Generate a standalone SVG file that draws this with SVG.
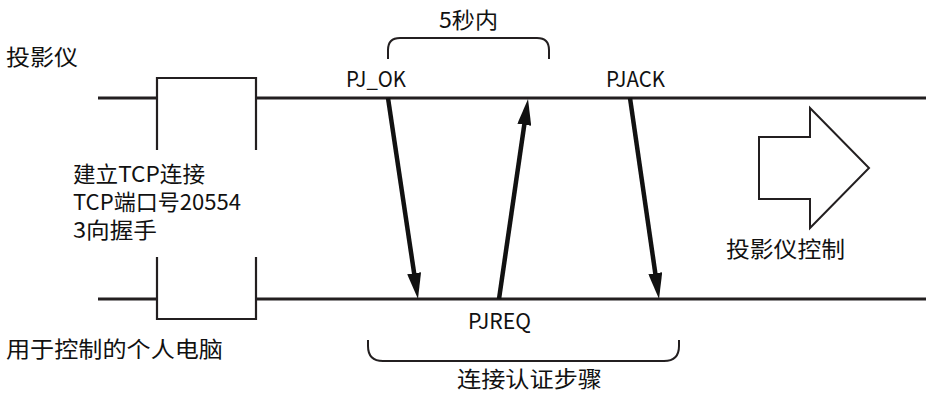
<svg xmlns="http://www.w3.org/2000/svg" width="926" height="393" viewBox="0 0 926 393">
<style>
.t{font-family:"Noto Sans CJK SC","Liberation Sans",sans-serif;font-size:22px;fill:#111}
.life{fill:none;stroke:#231f20;stroke-width:3}
.box{fill:none;stroke:#231f20;stroke-width:2.2}
.br{fill:none;stroke:#231f20;stroke-width:2}
.msg{fill:none;stroke:#111;stroke-width:4.5;marker-end:url(#ah)}
</style>
<defs>
<marker id="ah" viewBox="0 0 26 14" refX="14" refY="7" markerWidth="26" markerHeight="14" markerUnits="userSpaceOnUse" orient="auto">
<path d="M0,0 L26,7 L0,14 z" fill="#111"/>
</marker>
</defs>
<rect width="926" height="393" fill="#fff"/>
<g id="projector">
<path class="life" d="M98,98 H157 M256,98 H926"/>
<text class="t" x="6" y="65" textLength="72" lengthAdjust="spacingAndGlyphs">投影仪</text>
</g>
<g id="pc">
<path class="life" d="M98,299 H157 M256,299 H926"/>
<text class="t" x="6" y="357" textLength="217" lengthAdjust="spacingAndGlyphs">用于控制的个人电脑</text>
</g>
<g id="tcp-handshake">
<path class="box" d="M157,150 V78 H256 V150 M157,257 V319 H256 V257"/>
<text class="t" x="73" y="182" textLength="132" lengthAdjust="spacingAndGlyphs">建立TCP连接</text>
<text class="t" x="73" y="210" textLength="168" lengthAdjust="spacingAndGlyphs">TCP端口号20554</text>
<text class="t" x="73" y="238" textLength="84" lengthAdjust="spacingAndGlyphs">3向握手</text>
</g>
<g id="within-5s">
<path class="br" d="M388,59 V50 Q388,38 400,38 H537 Q549,38 549,50 V59"/>
<text class="t" x="439" y="28" textLength="59" lengthAdjust="spacingAndGlyphs">5秒内</text>
</g>
<g id="auth-steps">
<path class="br" d="M368,340 V346 Q368,361 383,361 H664 Q679,361 679,346 V340"/>
<text class="t" x="457" y="387" textLength="145" lengthAdjust="spacingAndGlyphs">连接认证步骤</text>
</g>
<g id="label-pjok"><text class="t" x="346" y="87" textLength="60" lengthAdjust="spacingAndGlyphs">PJ_OK</text></g>
<g id="label-pjreq"><text class="t" x="468" y="329" textLength="63" lengthAdjust="spacingAndGlyphs">PJREQ</text></g>
<g id="label-pjack"><text class="t" x="606" y="87" textLength="59" lengthAdjust="spacingAndGlyphs">PJACK</text></g>
<g id="projector-control">
<polygon points="759,137 810,137 810,108 869,168 810,228 810,199 759,199" fill="#fff" stroke="#231f20" stroke-width="2"/>
<text class="t" x="726" y="257" textLength="119" lengthAdjust="spacingAndGlyphs">投影仪控制</text>
</g>
<g id="connectors">
<line class="msg" x1="388" y1="98" x2="416.2" y2="287.1"/>
<line class="msg" x1="499" y1="299" x2="526.3" y2="110.9"/>
<line class="msg" x1="630" y1="98" x2="657.3" y2="287.1"/>
</g>
</svg>
